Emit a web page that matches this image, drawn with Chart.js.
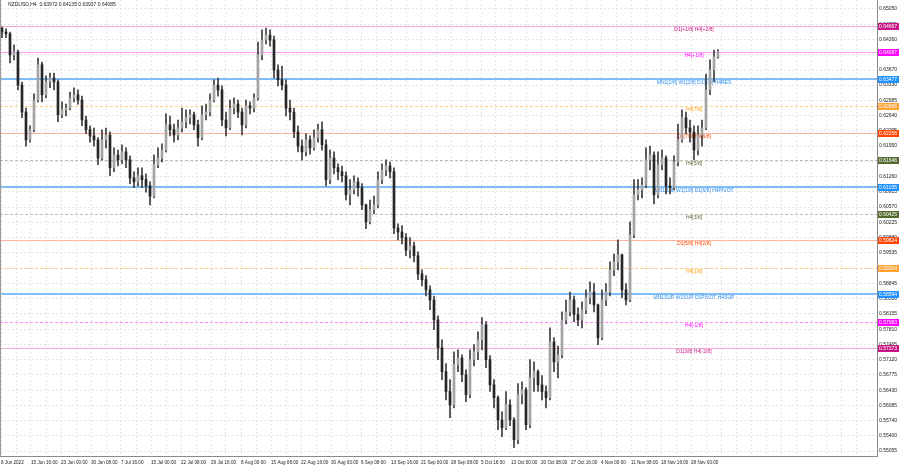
<!DOCTYPE html>
<html>
<head>
<meta charset="utf-8">
<script src="https://cdn.jsdelivr.net/npm/chart.js@4.4.1/dist/chart.umd.min.js"></script>
<style>
  html, body { margin: 0; padding: 0; background: #fff; }
  canvas { display: block; }
</style>
</head>
<body>
<canvas id="fxChart" width="900" height="468"></canvas>
<script>
// NZDUSD H4, one candle here is roughly one trading day of the original
let symbolTitle = 'NZDUSD,H4  0.63972 0.64135 0.63937 0.64085';

let openPrices = [
  0.6462, 0.6453, 0.6449, 0.6401, 0.6408, 0.6333, 0.6272, 0.6209, 0.6232, 0.6299,
  0.6379, 0.6311, 0.6340, 0.6349, 0.6340, 0.6266, 0.6277, 0.6281, 0.6304, 0.6311,
  0.6299, 0.6254, 0.6232, 0.6218, 0.6209, 0.6168, 0.6209, 0.6220, 0.6146, 0.6175,
  0.6164, 0.6182, 0.6164, 0.6123, 0.6114, 0.6128, 0.6119, 0.6105, 0.6082, 0.6153,
  0.6168, 0.6186, 0.6243, 0.6232, 0.6220, 0.6236, 0.6250, 0.6259, 0.6266, 0.6243,
  0.6214, 0.6266, 0.6272, 0.6299, 0.6333, 0.6322, 0.6254, 0.6236, 0.6281, 0.6290,
  0.6272, 0.6243, 0.6286, 0.6281, 0.6304, 0.6401, 0.6435, 0.6446, 0.6435, 0.6367,
  0.6345, 0.6333, 0.6281, 0.6272, 0.6227, 0.6195, 0.6182, 0.6209, 0.6191, 0.6214,
  0.6232, 0.6198, 0.6119, 0.6168, 0.6146, 0.6137, 0.6128, 0.6085, 0.6096, 0.6114,
  0.6101, 0.6062, 0.6024, 0.6051, 0.6062, 0.6119, 0.6141, 0.6150, 0.6137, 0.6010,
  0.6001, 0.5988, 0.5960, 0.5969, 0.5947, 0.5906, 0.5893, 0.5870, 0.5847, 0.5802,
  0.5739, 0.5685, 0.5640, 0.5610, 0.5701, 0.5716, 0.5678, 0.5633, 0.5712, 0.5730,
  0.5757, 0.5791, 0.5712, 0.5655, 0.5626, 0.5576, 0.5558, 0.5610, 0.5576, 0.5531,
  0.5633, 0.5644, 0.5565, 0.5671, 0.5685, 0.5655, 0.5640, 0.5626, 0.5752, 0.5707,
  0.5723, 0.5802, 0.5820, 0.5847, 0.5814, 0.5802, 0.5825, 0.5852, 0.5865, 0.5836,
  0.5762, 0.5847, 0.5865, 0.5915, 0.5933, 0.5949, 0.5870, 0.5847, 0.5994, 0.6085,
  0.6096, 0.6107, 0.6164, 0.6175, 0.6085, 0.6153, 0.6168, 0.6105, 0.6101, 0.6159,
  0.6209, 0.6259, 0.6236, 0.6227, 0.6186, 0.6220, 0.6236, 0.6322, 0.6367, 0.63972
];
let highPrices = [
  0.6464, 0.6460, 0.6453, 0.6424, 0.6412, 0.6340, 0.6281, 0.6241, 0.6313, 0.6394,
  0.6385, 0.6354, 0.6360, 0.6360, 0.6345, 0.6295, 0.6290, 0.6317, 0.6327, 0.6322,
  0.6308, 0.6263, 0.6241, 0.6236, 0.6214, 0.6232, 0.6236, 0.6227, 0.6191, 0.6186,
  0.6198, 0.6191, 0.6173, 0.6137, 0.6146, 0.6146, 0.6132, 0.6114, 0.6175, 0.6191,
  0.6200, 0.6268, 0.6263, 0.6245, 0.6254, 0.6281, 0.6277, 0.6277, 0.6272, 0.6254,
  0.6286, 0.6290, 0.6313, 0.6345, 0.6349, 0.6331, 0.6272, 0.6299, 0.6304, 0.6299,
  0.6281, 0.6299, 0.6295, 0.6313, 0.6430, 0.6458, 0.6462, 0.6458, 0.6444, 0.6379,
  0.6376, 0.6345, 0.6299, 0.6281, 0.6241, 0.6209, 0.6223, 0.6218, 0.6232, 0.6245,
  0.6250, 0.6209, 0.6186, 0.6182, 0.6155, 0.6150, 0.6137, 0.6119, 0.6128, 0.6123,
  0.6110, 0.6064, 0.6073, 0.6082, 0.6137, 0.6155, 0.6164, 0.6159, 0.6146, 0.6019,
  0.6015, 0.5997, 0.5988, 0.5978, 0.5956, 0.5915, 0.5902, 0.5879, 0.5856, 0.5811,
  0.5757, 0.5703, 0.5667, 0.5730, 0.5734, 0.5723, 0.5689, 0.5734, 0.5746, 0.5775,
  0.5807, 0.5798, 0.5721, 0.5667, 0.5630, 0.5594, 0.5640, 0.5621, 0.5581, 0.5658,
  0.5662, 0.5649, 0.5712, 0.5707, 0.5689, 0.5676, 0.5653, 0.5784, 0.5762, 0.5743,
  0.5820, 0.5847, 0.5865, 0.5856, 0.5829, 0.5843, 0.5870, 0.5888, 0.5884, 0.5838,
  0.5870, 0.5884, 0.5933, 0.5951, 0.5983, 0.5951, 0.5884, 0.6024, 0.6119, 0.6119,
  0.6123, 0.6191, 0.6195, 0.6182, 0.6182, 0.6186, 0.6173, 0.6123, 0.6173, 0.6245,
  0.6277, 0.6272, 0.6254, 0.6241, 0.6241, 0.6254, 0.6358, 0.6390, 0.6412, 0.64135
];
let lowPrices = [
  0.6440, 0.6440, 0.6383, 0.6390, 0.6322, 0.6259, 0.6195, 0.6204, 0.6227, 0.6295,
  0.6295, 0.6304, 0.6327, 0.6322, 0.6250, 0.6259, 0.6263, 0.6277, 0.6295, 0.6290,
  0.6241, 0.6223, 0.6204, 0.6195, 0.6153, 0.6164, 0.6191, 0.6128, 0.6137, 0.6150,
  0.6155, 0.6146, 0.6110, 0.6101, 0.6105, 0.6101, 0.6091, 0.6062, 0.6078, 0.6146,
  0.6159, 0.6182, 0.6218, 0.6204, 0.6209, 0.6227, 0.6236, 0.6245, 0.6232, 0.6195,
  0.6209, 0.6254, 0.6263, 0.6295, 0.6308, 0.6241, 0.6218, 0.6232, 0.6268, 0.6259,
  0.6220, 0.6236, 0.6268, 0.6272, 0.6299, 0.6390, 0.6426, 0.6421, 0.6349, 0.6331,
  0.6322, 0.6263, 0.6254, 0.6214, 0.6182, 0.6164, 0.6173, 0.6177, 0.6186, 0.6204,
  0.6186, 0.6105, 0.6110, 0.6132, 0.6119, 0.6114, 0.6073, 0.6062, 0.6087, 0.6082,
  0.6051, 0.6008, 0.6019, 0.6042, 0.6055, 0.6110, 0.6128, 0.6123, 0.5997, 0.5983,
  0.5974, 0.5947, 0.5942, 0.5933, 0.5893, 0.5879, 0.5856, 0.5825, 0.5780, 0.5712,
  0.5667, 0.5621, 0.5581, 0.5603, 0.5685, 0.5662, 0.5617, 0.5626, 0.5698, 0.5712,
  0.5734, 0.5694, 0.5640, 0.5603, 0.5554, 0.5538, 0.5554, 0.5563, 0.5513, 0.5522,
  0.5612, 0.5554, 0.5558, 0.5640, 0.5640, 0.5621, 0.5603, 0.5621, 0.5685, 0.5671,
  0.5716, 0.5793, 0.5811, 0.5798, 0.5789, 0.5784, 0.5816, 0.5838, 0.5820, 0.5746,
  0.5757, 0.5834, 0.5856, 0.5902, 0.5915, 0.5852, 0.5836, 0.5843, 0.5988, 0.6073,
  0.6078, 0.6101, 0.6141, 0.6064, 0.6078, 0.6141, 0.6087, 0.6087, 0.6096, 0.6150,
  0.6204, 0.6223, 0.6204, 0.6164, 0.6175, 0.6195, 0.6232, 0.6311, 0.6340, 0.63937
];
let closePrices = [
  0.6453, 0.6449, 0.6401, 0.6408, 0.6333, 0.6272, 0.6209, 0.6232, 0.6299, 0.6379,
  0.6311, 0.6340, 0.6349, 0.6340, 0.6266, 0.6277, 0.6281, 0.6304, 0.6311, 0.6299,
  0.6254, 0.6232, 0.6218, 0.6209, 0.6168, 0.6209, 0.6220, 0.6146, 0.6175, 0.6164,
  0.6182, 0.6164, 0.6123, 0.6114, 0.6128, 0.6119, 0.6105, 0.6082, 0.6153, 0.6168,
  0.6186, 0.6243, 0.6232, 0.6220, 0.6236, 0.6250, 0.6259, 0.6266, 0.6243, 0.6214,
  0.6266, 0.6272, 0.6299, 0.6333, 0.6322, 0.6254, 0.6236, 0.6281, 0.6290, 0.6272,
  0.6243, 0.6286, 0.6281, 0.6304, 0.6401, 0.6435, 0.6446, 0.6435, 0.6367, 0.6345,
  0.6333, 0.6281, 0.6272, 0.6227, 0.6195, 0.6182, 0.6209, 0.6191, 0.6214, 0.6232,
  0.6198, 0.6119, 0.6168, 0.6146, 0.6137, 0.6128, 0.6085, 0.6096, 0.6114, 0.6101,
  0.6062, 0.6024, 0.6051, 0.6062, 0.6119, 0.6141, 0.6150, 0.6137, 0.6010, 0.6001,
  0.5988, 0.5960, 0.5969, 0.5947, 0.5906, 0.5893, 0.5870, 0.5847, 0.5802, 0.5739,
  0.5685, 0.5640, 0.5610, 0.5701, 0.5716, 0.5678, 0.5633, 0.5712, 0.5730, 0.5757,
  0.5791, 0.5712, 0.5655, 0.5626, 0.5576, 0.5558, 0.5610, 0.5576, 0.5531, 0.5633,
  0.5644, 0.5565, 0.5671, 0.5685, 0.5655, 0.5640, 0.5626, 0.5752, 0.5707, 0.5723,
  0.5802, 0.5820, 0.5847, 0.5814, 0.5802, 0.5825, 0.5852, 0.5865, 0.5836, 0.5762,
  0.5847, 0.5865, 0.5915, 0.5933, 0.5949, 0.5870, 0.5847, 0.5994, 0.6085, 0.6096,
  0.6107, 0.6164, 0.6175, 0.6085, 0.6153, 0.6168, 0.6105, 0.6101, 0.6159, 0.6209,
  0.6259, 0.6236, 0.6227, 0.6186, 0.6220, 0.6236, 0.6322, 0.6367, 0.6397, 0.64085
];

let timeLabels = ['8 Jun 2022', '15 Jun 16:00', '23 Jun 00:00', '30 Jun 08:00', '7 Jul 16:00',
  '15 Jul 00:00', '22 Jul 08:00', '29 Jul 16:00', '8 Aug 00:00', '15 Aug 08:00', '22 Aug 16:00',
  '30 Aug 00:00', '6 Sep 08:00', '13 Sep 16:00', '21 Sep 00:00', '28 Sep 08:00', '5 Oct 16:00',
  '13 Oct 00:00', '20 Oct 08:00', '27 Oct 16:00', '4 Nov 00:00', '11 Nov 08:00', '18 Nov 16:00',
  '28 Nov 00:00'];

let priceLabels = ['0.65050', '0.64705', '0.64360', '0.64015', '0.63670', '0.63330', '0.62985',
  '0.62640', '0.62295', '0.61950', '0.61605', '0.61260', '0.60915', '0.60570', '0.60225',
  '0.59880', '0.59535', '0.59190', '0.58845', '0.58500', '0.58155', '0.57810', '0.57465',
  '0.57120', '0.56775', '0.56430', '0.56085', '0.55740', '0.55400', '0.55055'];

// Murrey math levels
let levelPrices = [0.64667, 0.64087, 0.63477, 0.62866, 0.62256, 0.61646, 0.61035,
  0.60425, 0.59824, 0.59204, 0.58594, 0.57983, 0.57373];
let levelNames = ['D1[+1/8] H4[+2/8]', 'H4[+1/8]', 'MN1[2/8] W1[2/8] D1[8/8] H4RES', 'H4[7/8]',
  'D1[7/8] H4[6/8]', 'H4[5/8]', 'MN1[1/8] W1[1/8] D1[6/8] H4PIVOT', 'H4[3/8]',
  'D1[5/8] H4[2/8]', 'H4[1/8]', 'MN1SUP W1SUP D1PIVOT H4SUP', 'H4[-1/8]', 'D1[3/8] H4[-2/8]'];
let levelKinds = ['dmag', 'mag', 'blue', 'orange', 'red', 'olive', 'blue', 'olive',
  'red', 'orange', 'blue', 'magdash', 'dmag'];

let kindStyle = {
  dmag:    { line: '#f3a8d8', text: '#c71585', box: '#c71585', width: 1, dash: [] },
  mag:     { line: '#ff9cff', text: '#ff00ff', box: '#ff00ff', width: 1, dash: [] },
  blue:    { line: '#80bdf7', text: '#2f8fef', box: '#1e90ff', width: 2, dash: [] },
  orange:  { line: '#ffd08a', text: '#ffa010', box: '#ffa033', width: 1, dash: [3, 2] },
  red:     { line: '#ffb49c', text: '#ff4500', box: '#ff4500', width: 1, dash: [] },
  olive:   { line: '#bdbdb0', text: '#556b2f', box: '#556b2f', width: 1, dash: [3, 2] },
  magdash: { line: '#ff88ff', text: '#ff00ff', box: '#ff00ff', width: 1, dash: [3, 2] }
};

let fontFamily = '"Liberation Sans", Arial, sans-serif';
let tinyFont = '5px ' + fontFamily;

let candleIdx = closePrices.map((c, i) => i);
let wickData = candleIdx.map(i => ({ x: i, y: [lowPrices[i], highPrices[i]] }));
let bodyData = candleIdx.map(i => ({ x: i, y: [openPrices[i], closePrices[i]] }));
let bodyColors = candleIdx.map(i => closePrices[i] >= openPrices[i] ? '#a4a4a4' : '#262626');

let levelsPlugin = {
  id: 'levels',
  beforeDatasetsDraw(chart) {
    let ctx = chart.ctx, area = chart.chartArea, ys = chart.scales.y;
    ctx.save();
    levelPrices.forEach((p, i) => {
      let st = kindStyle[levelKinds[i]];
      let y = Math.round(ys.getPixelForValue(p)) + (st.width === 2 ? 0 : 0.5);
      ctx.strokeStyle = st.line;
      ctx.lineWidth = st.width;
      ctx.setLineDash(st.dash);
      ctx.beginPath();
      ctx.moveTo(area.left, y);
      ctx.lineTo(area.right, y);
      ctx.stroke();
      ctx.setLineDash([]);
      ctx.font = tinyFont;
      ctx.fillStyle = st.text;
      ctx.textAlign = 'center';
      ctx.textBaseline = 'top';
      ctx.fillText(levelNames[i], 694, y + 1);
    });
    ctx.restore();
  },
  afterDraw(chart) {
    let ctx = chart.ctx, area = chart.chartArea, ys = chart.scales.y;
    ctx.save();
    // price tags on the right scale
    levelPrices.forEach((p, i) => {
      let st = kindStyle[levelKinds[i]];
      let y = Math.round(ys.getPixelForValue(p));
      ctx.fillStyle = st.box;
      ctx.fillRect(area.right + 1, y - 3, 21, 7);
      ctx.font = tinyFont;
      ctx.fillStyle = '#fff';
      ctx.textAlign = 'left';
      ctx.textBaseline = 'middle';
      ctx.fillText(p.toFixed(5), area.right + 2, y + 0.5);
    });
    // symbol line and left edge
    ctx.font = tinyFont;
    ctx.fillStyle = '#222';
    ctx.textAlign = 'left';
    ctx.textBaseline = 'middle';
    ctx.fillText(symbolTitle, 8, 5);
    ctx.strokeStyle = '#9a9a9a';
    ctx.lineWidth = 1;
    ctx.beginPath();
    ctx.moveTo(0.5, area.top);
    ctx.lineTo(0.5, area.bottom);
    ctx.stroke();
    ctx.restore();
  }
};

let fxChart = new Chart(document.getElementById('fxChart').getContext('2d'), {
  type: 'bar',
  data: {
    datasets: [{
      label: 'wick',
      data: wickData,
      backgroundColor: '#3c3c3c',
      barThickness: 1,
      grouped: false,
      order: 2
    }, {
      label: 'body',
      data: bodyData,
      backgroundColor: bodyColors,
      barThickness: 2,
      minBarLength: 1,
      grouped: false,
      order: 1
    }]
  },
  options: {
    responsive: false,
    animation: false,
    devicePixelRatio: 1,
    layout: { padding: 0 },
    plugins: { legend: { display: false }, tooltip: { enabled: false } },
    scales: {
      x: {
        type: 'linear',
        offset: false,
        min: -0.5,
        max: 218.75,
        afterBuildTicks: axis => {
          let t = [];
          for (let k = 0; k < 58; k++) t.push({ value: -0.25 + 3.75 * k });
          axis.ticks = t;
        },
        afterFit: axis => {
          axis.height = 12;
          axis.paddingLeft = 0;
          axis.paddingRight = 0;
        },
        ticks: {
          autoSkip: false,
          maxRotation: 0,
          align: 'start',
          padding: 4,
          color: '#222',
          font: { family: fontFamily, size: 4.6 },
          callback: (v, k) => (k % 2 === 0 && timeLabels[k / 2]) ? timeLabels[k / 2] : ''
        },
        grid: { color: '#e4e4e4', drawTicks: false, offset: false },
        border: { display: true, color: '#8a8a8a', dash: [2, 2] }
      },
      y: {
        position: 'right',
        min: 0.54942,
        max: 0.652535,
        afterBuildTicks: axis => {
          axis.ticks = priceLabels.map(s => ({ value: parseFloat(s) }));
        },
        afterFit: axis => {
          axis.width = 23;
          axis.paddingTop = 0;
          axis.paddingBottom = 0;
        },
        ticks: {
          autoSkip: false,
          padding: 2,
          color: '#222',
          font: { family: fontFamily, size: 5 },
          callback: (v, k) => priceLabels[k]
        },
        grid: { color: '#e4e4e4', drawTicks: false },
        border: { display: true, color: '#8a8a8a', dash: [2, 2] }
      }
    }
  },
  plugins: [levelsPlugin]
});
</script>
</body>
</html>
